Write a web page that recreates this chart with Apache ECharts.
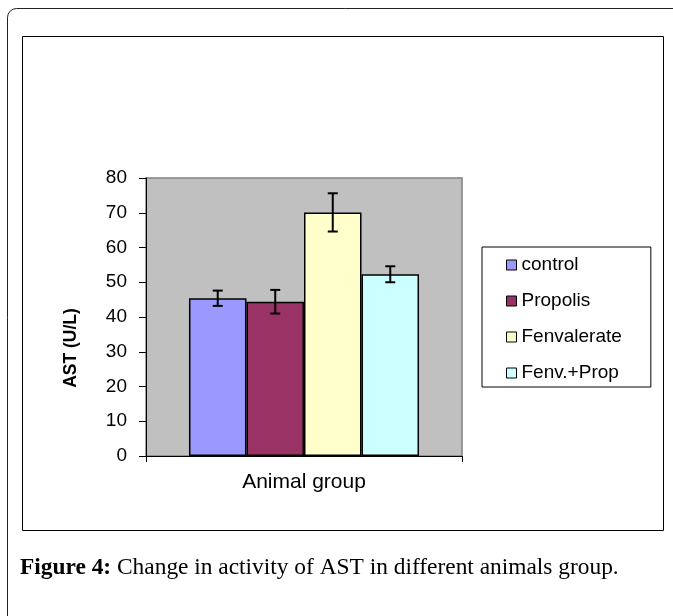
<!DOCTYPE html>
<html>
<head>
<meta charset="utf-8">
<script src="https://cdn.jsdelivr.net/npm/echarts@6/dist/echarts.min.js"></script>
<style>
  html, body { margin: 0; padding: 0; background: #fff; }
  #chart { width: 673px; height: 616px; }
</style>
</head>
<body>
<div id="chart"></div>
<script>
// data
var categories = ['Animal group'];
var groups = ['control', 'Propolis', 'Fenvalerate', 'Fenv.+Prop'];
var means = [45.4, 44.4, 70.1, 52.3];
var errors = [2.2, 3.4, 5.5, 2.3];
var colors = ['#9999FF', '#993366', '#FFFFCC', '#CCFFFF'];
var yTicks = [0, 80, 10]; // min, max, step

var catGap = 0.272;

var myChart = echarts.init(document.getElementById('chart'));

var series = groups.map(function (name, i) {
    return {
        name: name,
        type: 'bar',
        data: [means[i]],
        barGap: '0%',
        barCategoryGap: (catGap * 100) + '%',
        itemStyle: { color: colors[i], borderColor: '#000', borderWidth: 1.5 },
        z: 2
    };
});

series.push({
    type: 'custom',
    name: 'err',
    z: 5,
    silent: true,
    data: groups.map(function (g, i) {
        return [0, means[i] - errors[i], means[i] + errors[i], i];
    }),
    renderItem: function (params, api) {
        var idx = api.value(3);
        var catW = api.size([1, 0])[0];
        var barW = catW * (1 - catGap) / groups.length;
        var lo = api.coord([api.value(0), api.value(1)]);
        var hi = api.coord([api.value(0), api.value(2)]);
        var x = lo[0] + (idx - (groups.length - 1) / 2) * barW;
        var cap = 5;
        var st = { stroke: '#000', lineWidth: 2 };
        return {
            type: 'group',
            children: [
                { type: 'line', shape: { x1: x, y1: lo[1], x2: x, y2: hi[1] }, style: st },
                { type: 'line', shape: { x1: x - cap, y1: lo[1], x2: x + cap, y2: lo[1] }, style: st },
                { type: 'line', shape: { x1: x - cap, y1: hi[1], x2: x + cap, y2: hi[1] }, style: st }
            ]
        };
    }
});

var option = {
    animation: false,
    textStyle: { fontFamily: 'Liberation Sans, Arial, sans-serif' },
    grid: {
        left: 146, top: 178, width: 316, height: 278,
        show: true,
        backgroundColor: '#C0C0C0',
        borderColor: '#808080',
        borderWidth: 1.5
    },
    legend: {
        orient: 'vertical',
        left: 482,
        top: 247,
        data: groups,
        icon: 'rect',
        itemWidth: 10,
        itemHeight: 10,
        itemGap: 16,
        padding: [8, 29, 4, 24],
        backgroundColor: '#fff',
        borderColor: '#000',
        borderWidth: 1,
        itemStyle: { borderColor: '#000', borderWidth: 1 },
        textStyle: { fontSize: 19, color: '#000', lineHeight: 20 }
    },
    xAxis: {
        type: 'category',
        data: categories,
        axisLine: { lineStyle: { color: '#000', width: 1 } },
        axisTick: { show: true, length: 6, lineStyle: { color: '#000' } },
        axisLabel: { color: '#000', fontSize: 21, margin: 16 },
        z: 10
    },
    yAxis: {
        type: 'value',
        min: yTicks[0],
        max: yTicks[1],
        interval: yTicks[2],
        splitLine: { show: false },
        axisLine: { show: true, lineStyle: { color: '#000', width: 1 } },
        axisTick: { show: true, length: 7, lineStyle: { color: '#000' } },
        axisLabel: { color: '#000', fontSize: 19, margin: 19 },
        z: 10
    },
    graphic: [
        {
            type: 'rect', silent: true, z: -10,
            shape: { x: 7.5, y: 8.5, width: 800, height: 800, r: 9 },
            style: { fill: '#fff', stroke: '#222', lineWidth: 1 }
        },
        {
            type: 'rect', silent: true, z: -9,
            shape: { x: 22.5, y: 36.5, width: 641, height: 494 },
            style: { fill: '#fff', stroke: '#000', lineWidth: 1 }
        },
        {
            type: 'text', silent: true,
            x: 71, y: 348, rotation: Math.PI / 2,
            style: {
                text: 'AST (U/L)',
                fontFamily: 'Liberation Sans, Arial, sans-serif',
                fontSize: 17.5, fontWeight: 'bold', fill: '#000',
                align: 'center', verticalAlign: 'middle'
            }
        },
        {
            type: 'text', silent: true,
            x: 20, y: 568,
            style: {
                text: '{b|Figure 4:} Change in activity of AST in different animals group.',
                fontFamily: 'Liberation Serif, serif',
                fontSize: 23.4, fill: '#000',
                verticalAlign: 'middle',
                rich: {
                    b: { fontFamily: 'Liberation Serif, serif', fontSize: 23.4, fontWeight: 'bold', fill: '#000' }
                }
            }
        }
    ],
    series: series
};

myChart.setOption(option);
</script>
</body>
</html>
